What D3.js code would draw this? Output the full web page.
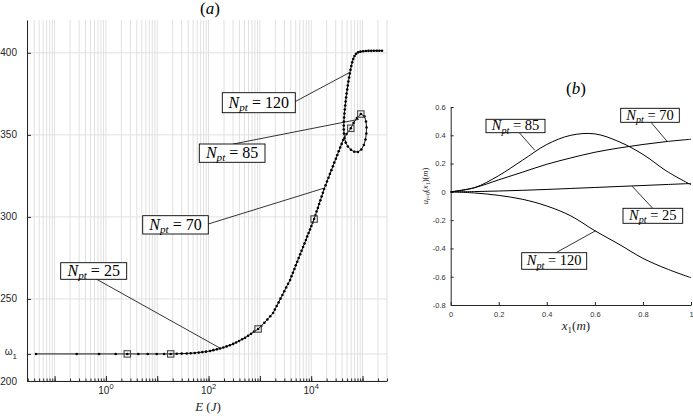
<!DOCTYPE html>
<html>
<head>
<meta charset="utf-8">
<script src="https://cdn.jsdelivr.net/npm/d3@7"></script>
<style>
  body { margin: 0; background: #fff; }
  svg { display: block; }
</style>
</head>
<body>
<div id="chart"></div>
<script>
// ---- panel (a): frequency vs energy ----
const energy = [
  0.0434, 0.270, 0.734, 1.55, 2.61, 4.28, 6.53, 9.78, 13.6, 18.3,
  24.0, 30.0, 37.6, 45.0, 53.8, 64.4, 75.7, 89.4, 107, 124,
  145, 168, 194, 225, 260, 301, 344, 393, 450, 515,
  589, 674, 771, 923, 1064, 1224, 1400, 1595, 1808, 1960,
  2125, 2316, 2523, 2748, 2992, 3258, 3548, 3880, 4130, 4397,
  4710, 5012, 5358, 5702, 6109, 6501, 6950, 7396, 7889, 8356,
  8892, 9484, 10090, 10690, 11400, 12080, 12740, 13520, 14260, 15100,
  15960, 16900, 17830, 19100, 20320, 21730, 23170, 24770, 26490, 28180,
  30200, 32280, 34360, 36730, 39170, 41880,
  48980, 59150, 67010, 77800, 92680, 108900, 117000, 119700, 118600, 114300,
  106400, 94800, 81280, 69180, 59430, 51890, 47100, 44570,
  43560, 43150, 43150, 43360, 43760, 44360, 45190, 46030, 46880, 47860,
  48980, 50350, 51640, 53090, 54830, 56490, 58340, 60530, 62950, 65920,
  69820, 75010, 82040, 91410, 102800, 115900, 130900, 147900, 166700, 188400,
  212400, 239900
];
const omega = [
  216.5, 216.5, 216.5, 216.5, 216.5, 216.5, 216.5, 216.5, 216.5, 216.5,
  216.6, 216.7, 216.8, 216.9, 217.1, 217.3, 217.6, 217.9, 218.3, 218.8,
  219.3, 219.8, 220.4, 221.1, 221.8, 222.6, 223.5, 224.4, 225.4, 226.4,
  227.6, 228.8, 230.1, 231.7, 233.5, 235.5, 237.5, 239.5, 241.4, 243.6,
  245.7, 247.9, 250.2, 252.4, 254.7, 257.0, 259.3, 261.5, 263.8, 266.0,
  268.3, 270.5, 272.7, 275.0, 277.2, 279.4, 281.7, 283.8, 285.9, 288.1,
  290.2, 292.3, 294.5, 296.6, 298.7, 301.0, 303.3, 305.5, 307.9, 310.1,
  312.4, 314.7, 317.0, 319.3, 321.6, 323.9, 326.2, 328.5, 330.8, 333.1,
  335.4, 337.7, 340.0, 342.3, 344.5, 346.9,
  350.5, 354.0, 357.3, 360.3, 362.7, 361.3, 358.1, 354.5, 350.8, 347.2,
  343.8, 341.1, 339.6, 339.7, 340.9, 342.9, 345.3, 348.1,
  350.8, 353.3, 355.7, 358.1, 360.6, 363.0, 365.5, 367.9, 370.3, 372.8,
  375.2, 377.6, 380.1, 382.5, 385.0, 387.4, 389.7, 392.0, 394.2, 396.2,
  398.1, 399.4, 400.3, 400.7, 401.0, 401.1, 401.2, 401.2, 401.3, 401.3,
  401.3, 401.3
];
// boxed points
const markE = [2.61, 18.3, 923, 11400, 59150, 92680];
const markW = [216.5, 216.5, 231.7, 298.7, 354.0, 362.7];

const omegaTicks = [200, 216.5, 250, 300, 350, 400];
const omegaTickLabels = ["200", "ω", "250", "300", "350", "400"];
const energyLabelTicks = [1, 100, 10000];
const energyLabelExp = ["0", "2", "4"];

// ---- panel (b): mode shapes ----
const x1 = [0, 0.1, 0.2, 0.3, 0.4, 0.5, 0.6, 0.7, 0.8, 0.9, 1.0];
const shape25 = [0, 0.002, 0.006, 0.011, 0.017, 0.024, 0.031, 0.038, 0.045, 0.052, 0.059];
const shape70 = [0, 0.03, 0.085, 0.14, 0.195, 0.24, 0.28, 0.31, 0.335, 0.356, 0.372];
const shape85 = [0, 0.03, 0.115, 0.225, 0.335, 0.40, 0.41, 0.355, 0.265, 0.145, 0.05];
const shape120 = [0, -0.008, -0.025, -0.053, -0.10, -0.17, -0.275, -0.37, -0.47, -0.545, -0.607];
const shapeTicksY = [-0.8, -0.6, -0.4, -0.2, 0, 0.2, 0.4, 0.6];
const shapeTicksX = [0, 0.2, 0.4, 0.6, 0.8, 1];

const nptLabels = [25, 70, 85, 120];
// leader targets, data coordinates
const targetsA = [[168, 220], [17300, 317.4], [85000, 359.5], [56000, 388]];
const targetsB = [[0.755, 0.040], [0.90, 0.358], [0.35, 0.294], [0.603, -0.275]];

const W = 693, H = 416;
const axisColor = "#262626";
const gridColor = "#e0e0e0";
const sans = "'Liberation Sans', Arial, sans-serif";
const serif = "'Liberation Serif', 'DejaVu Serif', serif";

const svg = d3.select("#chart").append("svg")
  .attr("width", W).attr("height", H)
  .style("background", "#fff");

// ================= panel (a) =================
const xA = d3.scaleLog().domain([0.029, 3e5]).range([27, 387]);
const yA = d3.scaleLinear().domain([200, 420]).range([381, 20]);

const gA = svg.append("g");

// grid
gA.append("g").selectAll("line")
  .data(xA.ticks())
  .join("line")
  .attr("x1", d => xA(d)).attr("x2", d => xA(d))
  .attr("y1", yA(420)).attr("y2", yA(200))
  .attr("stroke", gridColor).attr("stroke-width", 1);
gA.append("g").selectAll("line")
  .data(omegaTicks)
  .join("line")
  .attr("x1", xA.range()[0]).attr("x2", xA.range()[1])
  .attr("y1", d => yA(d)).attr("y2", d => yA(d))
  .attr("stroke", gridColor).attr("stroke-width", 1);

// axes
const decades = xA.ticks().filter(d => Math.abs(Math.log10(d) - Math.round(Math.log10(d))) < 1e-9);
gA.append("g")
  .attr("transform", `translate(0,${yA(200)})`)
  .attr("color", axisColor)
  .call(d3.axisBottom(xA).tickValues(xA.ticks()).tickSizeInner(-2.5).tickSizeOuter(0).tickFormat(""))
  .call(g => g.select(".domain").attr("stroke-width", 1));
gA.append("g")
  .attr("transform", `translate(0,${yA(200)})`)
  .attr("color", axisColor)
  .call(d3.axisBottom(xA).tickValues(decades).tickSizeInner(-5).tickSizeOuter(0).tickFormat(""))
  .call(g => g.select(".domain").remove());
gA.append("g")
  .attr("transform", `translate(${xA.range()[0]},0)`)
  .attr("color", axisColor)
  .call(d3.axisLeft(yA).tickValues(omegaTicks).tickSizeInner(-4).tickSizeOuter(0).tickFormat(""))
  .call(g => g.select(".domain").attr("stroke-width", 1));

// x tick labels 10^k
const xl = gA.append("g").selectAll("text")
  .data(energyLabelTicks)
  .join("text")
  .attr("x", d => xA(d))
  .attr("y", 394)
  .attr("text-anchor", "middle")
  .attr("font-family", sans)
  .attr("font-size", 10)
  .attr("fill", axisColor);
xl.append("tspan").text("10");
xl.append("tspan").attr("dy", -5).attr("font-size", 7.5).text((d, i) => energyLabelExp[i]);

// y tick labels
const yl = gA.append("g").selectAll("text")
  .data(omegaTicks)
  .join("text")
  .attr("x", 17)
  .attr("y", d => yA(d) + 3.5)
  .attr("text-anchor", "end")
  .attr("font-family", sans)
  .attr("font-size", 10)
  .attr("fill", axisColor)
  .text((d, i) => omegaTickLabels[i]);
yl.filter(d => d === 216.5)
  .attr("y", d => yA(d) + 1)
  .append("tspan").attr("dy", 4).attr("font-size", 8).text("1");

// curve
const pts = energy.map((e, i) => [e, omega[i]]);
gA.append("path")
  .datum(pts)
  .attr("fill", "none")
  .attr("stroke", "#000")
  .attr("stroke-width", 0.9)
  .attr("d", d3.line().x(d => xA(d[0])).y(d => yA(d[1])));
gA.append("g").selectAll("circle")
  .data(pts)
  .join("circle")
  .attr("cx", d => xA(d[0])).attr("cy", d => yA(d[1]))
  .attr("r", 1.3)
  .attr("fill", "#000");
gA.append("g").selectAll("rect")
  .data(markE)
  .join("rect")
  .attr("x", d => xA(d) - 3.2)
  .attr("y", (d, i) => yA(markW[i]) - 3.2)
  .attr("width", 6.4).attr("height", 6.4)
  .attr("fill", "none")
  .attr("stroke", "#444")
  .attr("stroke-width", 1.1);

// panel titles
function title(x, y, letter) {
  const t = svg.append("text")
    .attr("x", x).attr("y", y)
    .attr("text-anchor", "middle")
    .attr("font-family", serif)
    .attr("font-size", 17)
    .attr("fill", "#000");
  t.append("tspan").text("(");
  t.append("tspan").attr("font-style", "italic").text(letter);
  t.append("tspan").text(")");
}
title(210, 14, "a");

// x label E (J)
const xlab = svg.append("text")
  .attr("x", 208).attr("y", 411)
  .attr("text-anchor", "middle")
  .attr("font-family", serif)
  .attr("font-size", 13)
  .attr("fill", axisColor);
xlab.append("tspan").attr("font-style", "italic").text("E");
xlab.append("tspan").text(" (");
xlab.append("tspan").attr("font-style", "italic").text("J");
xlab.append("tspan").text(")");

// ================= panel (b) =================
const xB = d3.scaleLinear().domain([0, 1]).range([450.7, 691]);
const yB = d3.scaleLinear().domain([-0.8, 0.6]).range([305, 107]);
const gB = svg.append("g");

gB.append("g")
  .attr("transform", `translate(0,${yB(-0.8)})`)
  .attr("color", axisColor)
  .call(d3.axisBottom(xB).tickValues(shapeTicksX).tickSizeInner(-3).tickSizeOuter(0).tickPadding(7)
    .tickFormat(d => String(d)))
  .call(g => g.selectAll("text").attr("font-family", sans).attr("font-size", 7.5).attr("fill", "#333"));
gB.append("g")
  .attr("transform", `translate(${xB(0)},0)`)
  .attr("color", axisColor)
  .call(d3.axisLeft(yB).tickValues(shapeTicksY).tickSizeInner(-3).tickSizeOuter(0).tickPadding(5)
    .tickFormat(d => String(+d.toFixed(1))))
  .call(g => g.selectAll("text").attr("font-family", sans).attr("font-size", 7.5).attr("fill", "#333"));

const shapeLine = d3.line()
  .x((d, i) => xB(x1[i]))
  .y(d => yB(d))
  .curve(d3.curveCatmullRom.alpha(0.5));
gB.append("g").selectAll("path")
  .data([shape25, shape70, shape85, shape120])
  .join("path")
  .attr("fill", "none")
  .attr("stroke", "#000")
  .attr("stroke-width", 1)
  .attr("d", shapeLine);

title(576, 94, "b");

const xlabB = svg.append("text")
  .attr("x", 576).attr("y", 330)
  .attr("text-anchor", "middle")
  .attr("font-family", serif)
  .attr("font-size", 13)
  .attr("fill", axisColor);
xlabB.append("tspan").attr("font-style", "italic").text("x");
xlabB.append("tspan").attr("font-size", 9).attr("dy", 3).text("1");
xlabB.append("tspan").attr("dy", -3).text("(");
xlabB.append("tspan").attr("font-style", "italic").text("m");
xlabB.append("tspan").text(")");

// small rotated y label, as in the source figure
const ylabB = svg.append("text")
  .attr("transform", "translate(428,186) rotate(-90)")
  .attr("text-anchor", "middle")
  .attr("font-family", serif)
  .attr("font-size", 8.5)
  .attr("fill", axisColor);
ylabB.append("tspan").attr("font-style", "italic").text("u");
ylabB.append("tspan").attr("font-size", 6).attr("dy", 2).attr("font-style", "italic").text("t");
ylabB.append("tspan").attr("font-size", 6).text("=0");
ylabB.append("tspan").attr("dy", -2).text("(");
ylabB.append("tspan").attr("font-style", "italic").text("x");
ylabB.append("tspan").attr("font-size", 6).attr("dy", 2).text("1");
ylabB.append("tspan").attr("dy", -2).text(")(");
ylabB.append("tspan").attr("font-style", "italic").text("m");
ylabB.append("tspan").text(")");

// ================= N_pt annotations =================
// box: [x, y, w, h], leader start point in px
const boxesA = [
  { box: [60.7, 262.7, 66, 16.6], from: [96.7, 279.3] },
  { box: [142.7, 215.7, 65.6, 18.3], from: [208.3, 224] },
  { box: [199.3, 144, 65.7, 18.3], from: [233.3, 144] },
  { box: [222.3, 92.7, 73, 20], from: [295, 101.7] }
];
const boxesB = [
  { box: [623, 208.3, 59.7, 15], from: [652.7, 208.3] },
  { box: [620.7, 108.3, 58.6, 14], from: [651, 122.3] },
  { box: [486, 119.3, 59, 13.4], from: [519.3, 132.7] },
  { box: [521.7, 252.7, 65, 16.6], from: [556, 252.7] }
];

function annotate(boxes, targets, sx, sy, fs) {
  const g = svg.append("g");
  boxes.forEach((b, i) => {
    const [tx, ty] = targets[i];
    g.append("line")
      .attr("x1", b.from[0]).attr("y1", b.from[1])
      .attr("x2", sx(tx)).attr("y2", sy(ty))
      .attr("stroke", "#000").attr("stroke-width", 0.8);
  });
  boxes.forEach((b, i) => {
    const [x, y, w, h] = b.box;
    g.append("rect")
      .attr("x", x).attr("y", y).attr("width", w).attr("height", h)
      .attr("fill", "#fff").attr("stroke", "#000").attr("stroke-width", 0.9);
    const t = g.append("text")
      .attr("x", x + w / 2).attr("y", y + h / 2 + fs * 0.3)
      .attr("text-anchor", "middle")
      .attr("font-family", serif)
      .attr("font-size", fs)
      .attr("fill", "#000");
    t.append("tspan").attr("font-style", "italic").text("N");
    t.append("tspan").attr("font-style", "italic").attr("font-size", fs * 0.7).attr("dy", fs * 0.22).text("pt");
    t.append("tspan").attr("dy", -fs * 0.22).text(" = " + nptLabels[i]);
  });
}
annotate(boxesA, targetsA, xA, yA, 16);
annotate(boxesB, targetsB, xB, yB, 14.5);
</script>
</body>
</html>
